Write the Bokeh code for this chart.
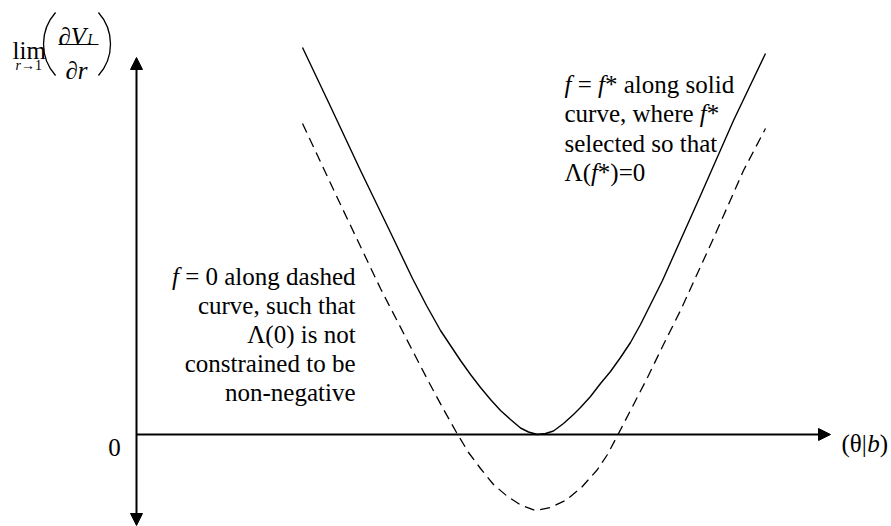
from bokeh.plotting import figure
from bokeh.models import Range1d, Arrow, NormalHead
from bokeh.core.properties import value
from bokeh.embed import file_html
from bokeh.resources import INLINE

# ---- data (x: theta|b units, y: lim dV_I/dr units) ----
solid_x = [1.66, 1.94, 2.24, 2.54, 2.76, 2.90, 3.04, 3.14, 3.24, 3.34, 3.44, 3.54,
           3.64, 3.74, 3.84, 3.92, 4.01, 4.09, 4.17, 4.27, 4.37, 4.44, 4.54, 4.64,
           4.74, 4.84, 4.94, 5.04, 5.26, 5.64, 5.97, 6.29]
solid_y = [3.87, 3.28, 2.64, 2.02, 1.56, 1.29, 1.04, 0.89, 0.74, 0.60, 0.47, 0.35,
           0.24, 0.15, 0.065, 0.025, 0.00, 0.01, 0.035, 0.11, 0.20, 0.27, 0.38, 0.51,
           0.63, 0.77, 0.92, 1.10, 1.54, 2.39, 3.14, 3.81]

dashed_x = [1.66, 2.04, 2.44, 2.61, 2.77, 2.92, 3.06, 3.20, 3.32, 3.44, 3.57, 3.71,
            3.85, 3.99, 4.14, 4.29, 4.45, 4.61, 4.71, 4.81, 4.94, 5.11, 5.27, 5.44,
            5.76, 6.07, 6.29]
dashed_y = [3.11, 2.30, 1.46, 1.13, 0.82, 0.53, 0.27, 0.02, -0.18, -0.34, -0.50, -0.62,
            -0.71, -0.76, -0.73, -0.66, -0.53, -0.35, -0.20, -0.01, 0.24, 0.57, 0.90, 1.24,
            1.94, 2.64, 3.06]

x_axis_end = 6.94
y_axis_top = 3.77
y_axis_bottom = -0.91
zero_tick_label = "0"
x_axis_label = [("(θ|", False), ("b", True), (")", False)]

right_note = [
    [("f", True), (" = ", False), ("f", True), ("* along solid", False)],
    [("curve, where ", False), ("f", True), ("*", False)],
    [("selected so that", False)],
    [("Λ(", False), ("f", True), ("*)=0", False)],
]
left_note = [
    [("f", True), (" = 0 along dashed", False)],
    [("curve, such that", False)],
    [("Λ(0) is not", False)],
    [("constrained to be", False)],
    [("non-negative", False)],
]

# ---- layout helpers (page pixel -> data) ----
W, H = 891, 526
PX = 100.0
X_ORIGIN, Y_ORIGIN = 136, 434   # page pixel of the axes' crossing


def sx(X):
    return (X - X_ORIGIN) / PX


def sy(Y):
    return (Y_ORIGIN - Y) / PX


REG = {' ': 0.25, '=': 0.564, '*': 0.5, '0': 0.5, '1': 0.5, 'a': 0.444, 'b': 0.5,
       'c': 0.444, 'd': 0.5, 'e': 0.444, 'f': 0.333, 'g': 0.5, 'h': 0.5, 'i': 0.278,
       'l': 0.278, 'm': 0.778, 'n': 0.5, 'o': 0.5, 'r': 0.333, 's': 0.389, 't': 0.278,
       'u': 0.5, 'v': 0.5, 'w': 0.722, ',': 0.25, '(': 0.333, ')': 0.333, '-': 0.333,
       'Λ': 0.722, 'θ': 0.5, '|': 0.2, '∂': 0.494, '→': 1.0}
ITA = {'f': 0.278, 'b': 0.5, 'r': 0.389, 'V': 0.611, 'I': 0.333}


def width(text, italic, size):
    table = ITA if italic else REG
    return sum(table.get(c, REG.get(c, 0.5)) for c in text) * size


FONT = value("'Liberation Serif', 'Times New Roman', serif")

p = figure(width=W, height=H,
           x_range=Range1d(sx(0), sx(W)), y_range=Range1d(sy(H), sy(0)),
           output_backend="svg", toolbar_location=None, min_border=0,
           x_axis_location=None, y_axis_location=None)
p.grid.grid_line_color = None
p.outline_line_color = None
p.background_fill_color = "white"
p.border_fill_color = "white"


def label(X, Y, segs, align="left", size=25):
    total = sum(width(t, it, size) for t, it in segs)
    start = X - total if align == "right" else X
    off = 0.0
    for t, it in segs:
        lead = len(t) - len(t.lstrip(" "))
        shown = t.strip(" ")
        if shown:
            x0 = start + off + width(" " * lead, False, size)
            p.text(x=[sx(x0)], y=[sy(Y)], text=[shown], text_font=FONT,
                   text_font_size=f"{size}px",
                   text_font_style="italic" if it else "normal",
                   text_align="left", text_baseline="alphabetic", text_color="black")
        off += width(t, it, size)


# ---- curves ----
p.line(solid_x, solid_y, line_color="black", line_width=1.4, line_join="round")
p.line(dashed_x, dashed_y, line_color="black", line_width=1.3, line_dash="10 6",
       line_join="round")

# ---- axes with arrow heads ----
def head():
    return NormalHead(size=12, fill_color="black", line_color="black", line_width=1)

p.add_layout(Arrow(end=head(), x_start=0, y_start=0, x_end=x_axis_end, y_end=0,
                   line_width=2, line_color="black"))
p.add_layout(Arrow(start=head(), end=head(), x_start=0, y_start=y_axis_bottom,
                   x_end=0, y_end=y_axis_top, line_width=2, line_color="black"))

# ---- axis labels ----
p.text(x=[sx(114)], y=[0], y_offset=13, text=[zero_tick_label], text_font=FONT,
       text_font_size="25px", text_align="center", text_baseline="alphabetic",
       text_color="black")
label(841, 443, x_axis_label)

# lim ( dV_I / dr )
label(12, 50, [("lim", False)])
label(15, 65, [("r", True), ("→1", False)], size=14)
label(58, 36, [("∂", False), ("V", True)])
label(87, 39, [("I", True)], size=14)
label(65, 70, [("∂", False), ("r", True)])
p.segment(x0=[sx(58)], y0=[sy(44)], x1=[sx(98)], y1=[sy(44)],
          line_color="black", line_width=1)
p.arc(x=[sx(90.3)], y=[sy(43.5)], radius=47.3, radius_units="screen",
      start_angle=3.14159 - 0.73, end_angle=3.14159 + 0.73,
      line_color="black", line_width=1.3)
p.arc(x=[sx(62.7)], y=[sy(43.5)], radius=47.3, radius_units="screen",
      start_angle=-0.73, end_angle=0.73, line_color="black", line_width=1.3)

# ---- annotations ----
for i, segs in enumerate(right_note):
    label(564, 84 + i * 29.3, segs)
for i, segs in enumerate(left_note):
    label(355, 276 + i * 29, segs, align="right")

open("out.html", "w").write(file_html(p, INLINE))
